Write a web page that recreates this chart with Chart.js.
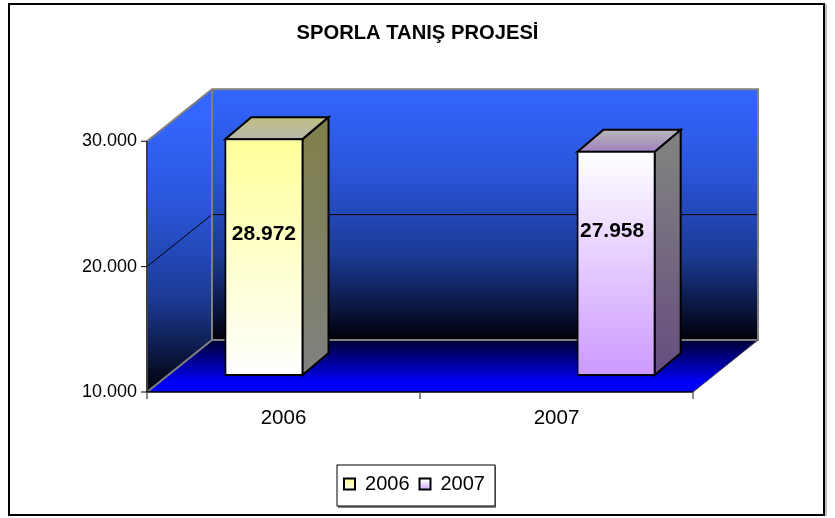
<!DOCTYPE html>
<html>
<head>
<meta charset="utf-8">
<style>
  html, body { margin: 0; background: #fff; }
</style>
<script src="https://cdn.jsdelivr.net/npm/chart.js@4"></script>
</head>
<body>
<canvas id="chart" width="835" height="518"></canvas>
<script>
const categories = ['2006', '2007'];
const seriesNames = ['2006', '2007'];
const values2006 = [28972, null];
const values2007 = [null, 27958];
const yTicks = [10000, 20000, 30000];

const FONT = '"Liberation Sans", Arial, sans-serif';
// 3D look: how far the back wall sits from the front plane, and bars sit inside it
const WALL_DX = 65, WALL_DY = -52;
const BAR_SHIFT_X = 20, BAR_SHIFT_Y = -16;
const BAR_DX = 26, BAR_DY = -22;

const numFmt = v => String(v).replace(/\B(?=(\d{3})+$)/g, '.');

const vGrad = (ctx, y0, y1, stops) => {
    const g = ctx.createLinearGradient(0, y0, 0, y1);
    stops.forEach((c, i) => g.addColorStop(i / (stops.length - 1), c));
    return g;
};

const barStyles = [
    { front: ['#ffff99', '#ffffff'], side: ['#80804d', '#808080'], top: ['#c0c080', '#b8b8b0'] },
    { front: ['#ffffff', '#cc99ff'], side: ['#808080', '#664d80'], top: ['#b8b8b8', '#a080c0'] }
];
// excel put the labels somewhere odd, nudge by hand
const labelNudge = [{ x: 0, y: 80 }, { x: -4, y: 64 }];

const frontFill = (i, values) => (c) => {
    const y = c.chart.scales.y;
    if (!c.chart.chartArea || !y) return barStyles[i].front[0];
    return vGrad(c.chart.ctx, y.getPixelForValue(values[i]), y.getBasePixel(), barStyles[i].front);
};

const poly = (ctx, pts) => {
    ctx.beginPath();
    pts.forEach((p, i) => i ? ctx.lineTo(p[0], p[1]) : ctx.moveTo(p[0], p[1]));
    ctx.closePath();
};

const line = (ctx, x0, y0, x1, y1, color, w) => {
    ctx.strokeStyle = color;
    ctx.lineWidth = w;
    ctx.beginPath();
    ctx.moveTo(x0, y0);
    ctx.lineTo(x1, y1);
    ctx.stroke();
};

const backdrop = {
    id: 'backdrop',
    afterLayout(chart) {
        // legend sits a little left of centre in the original
        chart.legend.left -= 3;
        chart.legend.right -= 3;
    },
    beforeDraw(chart) {
        const { ctx, chartArea: a, scales: { y } } = chart;
        const bx0 = a.left + WALL_DX, bx1 = a.right + WALL_DX;
        const by0 = a.top + WALL_DY, by1 = a.bottom + WALL_DY;
        ctx.save();
        ctx.fillStyle = '#fff';
        ctx.fillRect(0, 0, chart.width, chart.height);

        // outer frame
        line(ctx, 826, 4, 826, 516, '#808080', 1);
        ctx.strokeStyle = '#000';
        ctx.lineWidth = 2;
        ctx.strokeRect(9, 4, 815, 511);

        // back wall
        ctx.fillStyle = vGrad(ctx, by0, by1, ['#3366ff', '#2a55d8', '#1c3a94', '#000008']);
        ctx.fillRect(bx0, by0, bx1 - bx0, by1 - by0);
        // left wall
        poly(ctx, [[a.left, a.top], [bx0, by0], [bx0, by1], [a.left, a.bottom]]);
        ctx.fillStyle = vGrad(ctx, a.top - 25, a.bottom, ['#3366ff', '#2a55d8', '#1c3a94', '#000008']);
        ctx.fill();
        // floor
        poly(ctx, [[a.left, a.bottom], [bx0, by1], [bx1, by1], [a.right, a.bottom]]);
        ctx.fillStyle = vGrad(ctx, by1, a.bottom - 8, ['#000033', '#0000ff']);
        ctx.fill();

        // gridlines
        yTicks.slice(1, -1).forEach(v => {
            const py = y.getPixelForValue(v);
            line(ctx, a.left, py, bx0, py + WALL_DY, '#000', 1);
            line(ctx, bx0, py + WALL_DY, bx1, py + WALL_DY, '#000', 1);
        });

        // wall edges
        ctx.strokeStyle = '#808080';
        ctx.lineWidth = 2;
        ctx.beginPath();
        ctx.moveTo(a.left, a.top);
        ctx.lineTo(bx0, by0);
        ctx.lineTo(bx1, by0);
        ctx.lineTo(bx1, by1);
        ctx.lineTo(bx0, by1);
        ctx.lineTo(a.left, a.bottom);
        ctx.moveTo(bx0, by0);
        ctx.lineTo(bx0, by1);
        ctx.stroke();

        // axes lines
        line(ctx, a.left, a.top, a.left, a.bottom, '#404040', 2);
        line(ctx, a.left, a.bottom, a.right, a.bottom, '#000', 1.5);
        line(ctx, a.right, a.bottom, bx1, by1, '#404040', 1);
        // x ticks
        [a.left, (a.left + a.right) / 2, a.right].forEach(px => line(ctx, px, a.bottom, px, a.bottom + 7, '#606060', 1.5));
        // y ticks
        yTicks.forEach(v => {
            const py = y.getPixelForValue(v);
            line(ctx, a.left - 6, py, a.left, py, '#000', 1);
        });

        // legend box with small shadow
        ctx.fillStyle = '#808080';
        ctx.fillRect(338, 466, 158, 42);
        ctx.fillStyle = '#fff';
        ctx.fillRect(337, 465, 158, 41);
        ctx.strokeStyle = '#000';
        ctx.lineWidth = 1;
        ctx.strokeRect(337, 465, 158, 41);
        ctx.restore();
    },
    beforeDatasetsDraw(chart) {
        const { ctx } = chart;
        ctx.save();
        ctx.translate(BAR_SHIFT_X, BAR_SHIFT_Y);
        chart.data.datasets.forEach((ds, i) => {
            const el = chart.getDatasetMeta(i).data[i];
            const l = el.x - el.width / 2 + 1, r = el.x + el.width / 2 - 1;
            const t = el.y + 1, b = el.base - 1;
            // side face
            poly(ctx, [[r, t], [r + BAR_DX, t + BAR_DY], [r + BAR_DX, b + BAR_DY], [r, b]]);
            ctx.fillStyle = vGrad(ctx, t, b, barStyles[i].side);
            ctx.fill();
            ctx.strokeStyle = '#000';
            ctx.lineWidth = 2;
            ctx.lineJoin = 'miter';
            ctx.stroke();
            // top face
            poly(ctx, [[l, t], [l + BAR_DX, t + BAR_DY], [r + BAR_DX, t + BAR_DY], [r, t]]);
            ctx.fillStyle = vGrad(ctx, t + BAR_DY, t, barStyles[i].top);
            ctx.fill();
            ctx.stroke();
        });
    },
    afterDatasetsDraw(chart) {
        const { ctx } = chart;
        ctx.restore();
        ctx.save();
        ctx.font = 'bold 21px ' + FONT;
        ctx.fillStyle = '#000';
        ctx.textAlign = 'center';
        ctx.textBaseline = 'middle';
        chart.data.datasets.forEach((ds, i) => {
            const el = chart.getDatasetMeta(i).data[i];
            ctx.fillText(numFmt(ds.data[i]), el.x + BAR_SHIFT_X + labelNudge[i].x, el.y + labelNudge[i].y);
        });
        ctx.restore();
    }
};

const canvas = document.getElementById('chart');

new Chart(canvas, {
    type: 'bar',
    data: {
        labels: categories,
        datasets: [
            { label: seriesNames[0], data: values2006, base: yTicks[0], clip: false, backgroundColor: frontFill(0, values2006) },
            { label: seriesNames[1], data: values2007, base: yTicks[0], clip: false, backgroundColor: frontFill(1, values2007) }
        ]
    },
    options: {
        responsive: false,
        animation: false,
        events: [],
        categoryPercentage: 0.58,
        barPercentage: 1,
        borderColor: '#000',
        borderWidth: 2,
        borderSkipped: false,
        layout: { padding: { bottom: 14 } },
        scales: {
            x: {
                grid: { display: false },
                border: { display: false },
                ticks: { color: '#000', padding: 6, font: { family: FONT, size: 20.5 } },
                afterFit: (s) => { s.height = 72; }
            },
            y: {
                min: 10000,
                max: 30000,
                grid: { display: false },
                border: { display: false },
                afterBuildTicks: (s) => { s.ticks = yTicks.map(v => ({ value: v })); },
                ticks: { color: '#000', padding: 2, callback: numFmt, font: { family: FONT, size: 18 } },
                afterFit: (s) => { s.width = 147; }
            },
            // only here to hold the room on the right so title and legend stay centred
            yRight: {
                position: 'right',
                grid: { display: false },
                border: { display: false },
                ticks: { display: false },
                afterFit: (s) => { s.width = 142; }
            }
        },
        plugins: {
            title: {
                display: true,
                text: 'SPORLA TANIŞ PROJESİ',
                color: '#000',
                font: { family: FONT, size: 20.2, weight: 'bold' },
                padding: { top: 21, bottom: 96 }
            },
            legend: {
                position: 'bottom',
                labels: {
                    color: '#000',
                    font: { family: FONT, size: 20 },
                    boxWidth: 11,
                    boxHeight: 11,
                    padding: 10,
                    generateLabels: (chart) => seriesNames.map((name, i) => ({
                        text: name,
                        fillStyle: vGrad(chart.ctx, 480, 491, barStyles[i].front),
                        strokeStyle: '#000',
                        lineWidth: 2,
                        datasetIndex: i
                    }))
                }
            },
            tooltip: { enabled: false }
        }
    },
    plugins: [backdrop]
});
</script>
</body>
</html>
